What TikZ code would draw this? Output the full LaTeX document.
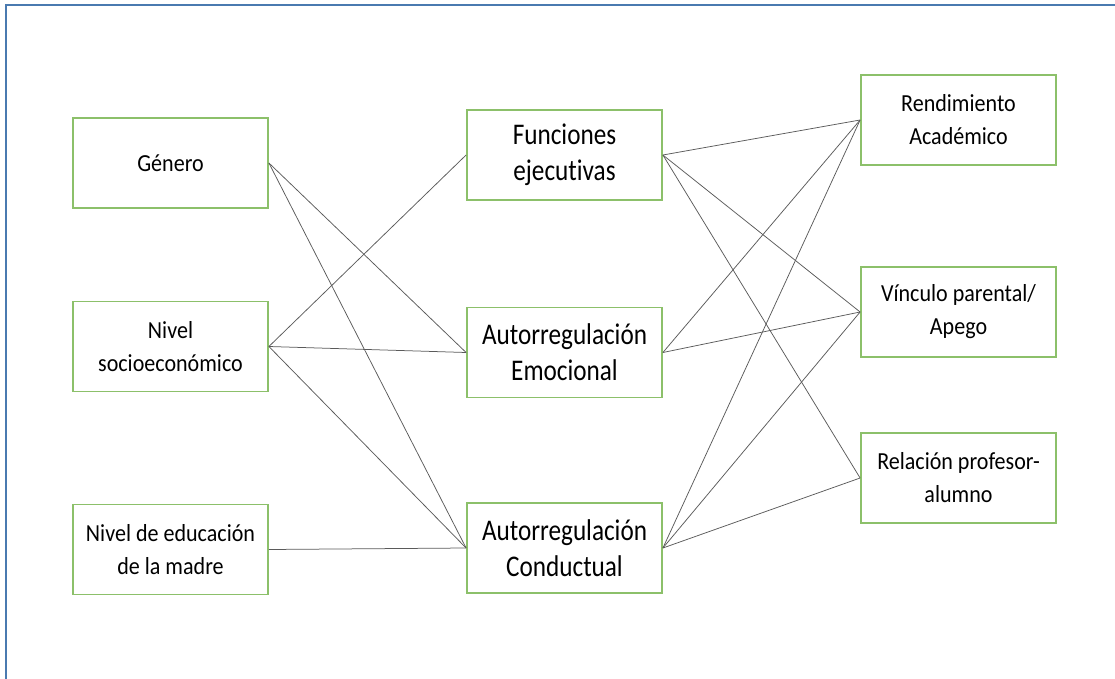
\documentclass[tikz,border=0pt]{standalone}
\usepackage{fontspec}
\setmainfont{Carlito}[RawFeature=-liga]
\newfontfamily\labelfont{Carlito}[FakeStretch=0.9,RawFeature=-liga]
\newfontfamily\headfont{Carlito}[FakeStretch=0.84,RawFeature=-liga]
\definecolor{boxgreen}{HTML}{8CC06A}
\definecolor{framblue}{HTML}{4A7AB0}
\definecolor{linkgray}{HTML}{5A5A5A}
\begin{document}
\begin{tikzpicture}[x=1pt,y=-1pt,
  varbox/.style={draw=boxgreen,line width=1.8pt,fill=white,rectangle,
    minimum width=195pt,minimum height=90pt,inner sep=0pt,align=center},
  smalltxt/.style={font=\labelfont\fontsize{24.5}{33}\selectfont},
  bigtxt/.style={font=\headfont\fontsize{30}{36}\selectfont},
  link/.style={draw=linkgray,line width=0.75pt}]
\useasboundingbox (0,0) rectangle (1115,679);
% outer frame
\draw[framblue,line width=1.6pt] (6,700) -- (6,5) -- (1130,5);

% left column
\node[varbox,smalltxt] (gen) at (170.5,163) {Género};
\node[varbox,smalltxt] (nse) at (170.5,346.5) {Nivel\\socioeconómico};
\node[varbox,smalltxt] (edu) at (170.5,549.5) {Nivel de educación\\de la madre};

% middle column
\node[varbox,bigtxt] (fe) at (564.5,155) {Funciones\\ejecutivas};
\node[varbox,bigtxt] (are) at (564.5,352.5) {Autorregulación\\Emocional};
\node[varbox,bigtxt] (arc) at (564.5,548) {Autorregulación\\Conductual};

% right column
\node[varbox,smalltxt] (ra) at (958.5,120) {Rendimiento\\Académico};
\node[varbox,smalltxt] (vp) at (958.5,312) {Vínculo parental/\\Apego};
\node[varbox,smalltxt] (rp) at (958.5,478) {Relación profesor-\\alumno};

% left to middle
\draw[link] (gen.east) -- (are.west);
\draw[link] (gen.east) -- (arc.west);
\draw[link] (nse.east) -- (fe.west);
\draw[link] (nse.east) -- (are.west);
\draw[link] (nse.east) -- (arc.west);
\draw[link] (edu.east) -- (arc.west);

% middle to right
\draw[link] (fe.east) -- (ra.west);
\draw[link] (fe.east) -- (vp.west);
\draw[link] (fe.east) -- (rp.west);
\draw[link] (are.east) -- (ra.west);
\draw[link] (are.east) -- (vp.west);
\draw[link] (arc.east) -- (ra.west);
\draw[link] (arc.east) -- (vp.west);
\draw[link] (arc.east) -- (rp.west);
\end{tikzpicture}
\end{document}
